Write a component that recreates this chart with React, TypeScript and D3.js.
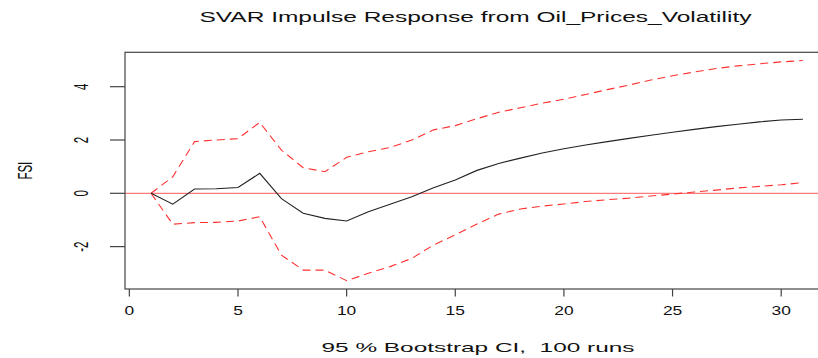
import React from "react";
import * as d3 from "d3";

const horizon: number[] = d3.range(1, 32);
const irf: number[] = [0, -0.41, 0.16, 0.17, 0.22, 0.75, -0.2, -0.75, -0.94, -1.04, -0.69, -0.41, -0.13, 0.21, 0.5, 0.86, 1.12, 1.32, 1.51, 1.67, 1.81, 1.94, 2.06, 2.18, 2.29, 2.4, 2.5, 2.59, 2.68, 2.75, 2.78];
const upper: number[] = [0, 0.62, 1.94, 2.0, 2.05, 2.66, 1.62, 0.96, 0.81, 1.35, 1.56, 1.72, 2.0, 2.38, 2.54, 2.8, 3.04, 3.21, 3.38, 3.53, 3.71, 3.89, 4.06, 4.25, 4.41, 4.55, 4.68, 4.78, 4.86, 4.93, 4.98];
const lower: number[] = [0, -1.16, -1.1, -1.09, -1.04, -0.88, -2.32, -2.88, -2.88, -3.28, -3.0, -2.75, -2.44, -1.94, -1.56, -1.15, -0.78, -0.59, -0.48, -0.4, -0.31, -0.24, -0.18, -0.1, -0.03, 0.05, 0.12, 0.2, 0.26, 0.32, 0.4];
const xTicks: number[] = [0, 5, 10, 15, 20, 25, 30];
const yTicks: number[] = [-2, 0, 2, 4];
const title = "SVAR Impulse Response from Oil_Prices_Volatility";
const xLabel = "95 % Bootstrap CI,  100 runs";
const yLabel = "FSI";

const W = 818;
const H = 358;
const left = 125;
const right = 829;
const top = 52.3;
const bottom = 289;

export default function App() {
  const x = d3.scaleLinear().domain([-0.2, 32.2]).range([left, right]);
  const ymin = -3.59;
  const ymax = 5.29;
  const y = d3.scaleLinear().domain([ymin, ymax]).range([bottom, top]);
  const line = (vals: number[]) =>
    d3.line<number>().x((_, i) => x(horizon[i])).y((v) => y(v))(vals) || "";
  const font = "'Liberation Sans', Arial, Helvetica, sans-serif";
  return (
    <svg
      width={W}
      height={H}
      style={{ position: "absolute", left: 0, top: 0, background: "#fff" }}
      fontFamily={font}
    >
      <rect x={0} y={0} width={W} height={H} fill="#fff" />
      <text
        x={199.5}
        y={22}
        fontSize={14}
        textLength={552}
        lengthAdjust="spacingAndGlyphs"
        fill="#111"
      >
        {title}
      </text>
      {/* zero line */}
      <line x1={left} x2={right} y1={y(0)} y2={y(0)} stroke="#ff5a5a" strokeWidth={1} />
      {/* CI */}
      <path d={line(upper)} fill="none" stroke="#ff3030" strokeWidth={1.1} strokeDasharray="8,5" />
      <path d={line(lower)} fill="none" stroke="#ff3030" strokeWidth={1.1} strokeDasharray="8,5" />
      {/* IRF */}
      <path d={line(irf)} fill="none" stroke="#222" strokeWidth={1.1} />
      {/* box */}
      <rect x={left} y={top} width={right - left} height={bottom - top} fill="none" stroke="#444" strokeWidth={1.2} />
      {/* x axis */}
      {xTicks.map((t) => (
        <g key={"x" + t}>
          <line x1={x(t)} x2={x(t)} y1={bottom} y2={bottom + 7.5} stroke="#444" strokeWidth={1.2} />
          <text
            transform={`translate(${x(t)},${315}) scale(1.45,1)`}
            textAnchor="middle"
            fontSize={12}
            fill="#111"
          >
            {t}
          </text>
        </g>
      ))}
      {/* y axis */}
      {yTicks.map((t) => (
        <g key={"y" + t}>
          <line x1={left - 15} x2={left} y1={y(t)} y2={y(t)} stroke="#444" strokeWidth={1.2} />
          <text
            transform={`translate(${88},${y(t)}) scale(1.7,1) rotate(-90)`}
            textAnchor="middle"
            fontSize={11.5}
            fill="#111"
          >
            {t}
          </text>
        </g>
      ))}
      <text
        transform={`translate(${32},${(top + bottom) / 2}) scale(1.7,1) rotate(-90)`}
        textAnchor="middle"
        fontSize={11.5}
        fill="#111"
      >
        {yLabel}
      </text>
      <text
        x={321.5}
        y={352}
        fontSize={13}
        textLength={313}
        lengthAdjust="spacingAndGlyphs"
        fill="#111"
        style={{ whiteSpace: "pre" }}
        xmlSpace="preserve"
      >
        {xLabel}
      </text>
    </svg>
  );
}
